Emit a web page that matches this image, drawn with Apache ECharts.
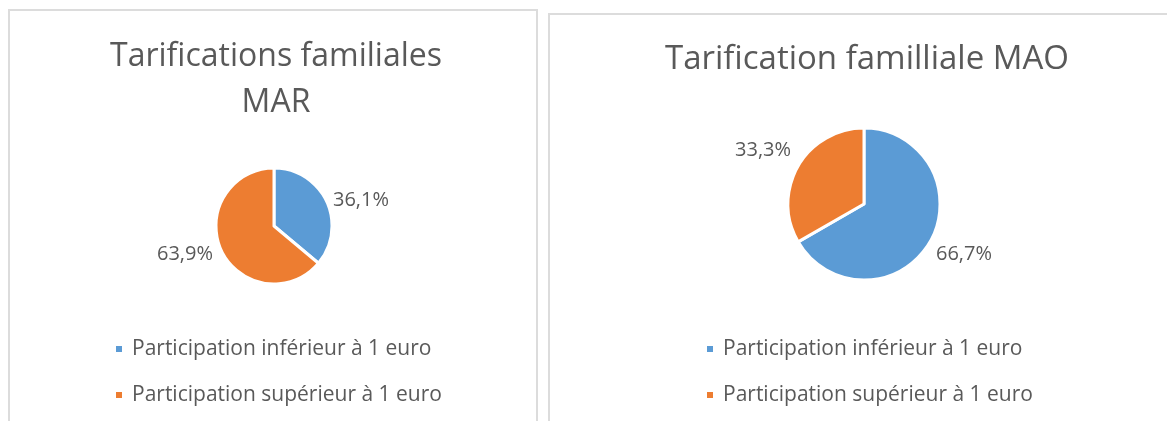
<!DOCTYPE html>
<html><head><meta charset="utf-8">
<script src="https://cdn.jsdelivr.net/npm/echarts@6/dist/echarts.min.js"></script>
<style>html,body{margin:0;padding:0;background:#fff}#c{width:1167px;height:421px}</style>
</head><body><div id="c"></div>
<script>
const categories = ['Participation inférieur à 1 euro', 'Participation supérieur à 1 euro'];
const valuesMAR = [36.1, 63.9];
const valuesMAO = [66.7, 33.3];
const titleMAR = 'Tarifications familiales\nMAR';
const titleMAO = 'Tarification familliale MAO';
const colors = ['#5B9BD5', '#ED7D31'];
const FONT = '"Open Sans"';
const TXT = '#595959';

const chart = echarts.init(document.getElementById('c'));
const fmt = p => p.percent.toFixed(1).replace('.', ',') + '%';
function pie(vals, center, radius, shifts) {
  return {
    type: 'pie', center: center, radius: radius, startAngle: 90, clockwise: true,
    itemStyle: { borderColor: '#fff', borderWidth: 3 },
    label: { show: true, position: 'outside', formatter: fmt, color: TXT, fontFamily: FONT, fontSize: 20 },
    labelLine: { show: false, length: 6, length2: 0 },
    labelLayout: function (p) { return { dx: shifts[p.dataIndex][0], dy: shifts[p.dataIndex][1] }; },
    emphasis: { disabled: true },
    data: categories.map((n, i) => ({ name: n, value: vals[i], itemStyle: { color: colors[i] } }))
  };
}
const legendBase = {
  orient: 'vertical', icon: 'rect', itemWidth: 8, itemHeight: 8, itemGap: 24, padding: 5,
  textStyle: { color: TXT, fontFamily: FONT, fontSize: 21, lineHeight: 22, padding: [0, 0, 0, 4] },
  data: categories, selectedMode: false
};
chart.setOption({
  animation: false,
  graphic: [
    { type: 'rect', shape: { x: 9, y: 10, width: 528, height: 430 }, style: { fill: 'none', stroke: '#dcdcdc', lineWidth: 2 } },
    { type: 'rect', shape: { x: 549, y: 14, width: 630, height: 430 }, style: { fill: 'none', stroke: '#dcdcdc', lineWidth: 2 } }
  ],
  title: [
    { text: titleMAR, left: 271, top: 29, textAlign: 'center',
      textStyle: { color: TXT, fontFamily: FONT, fontSize: 32, fontWeight: 'normal', lineHeight: 46 } },
    { text: titleMAO, left: 862, top: 35, textAlign: 'center',
      textStyle: { color: TXT, fontFamily: FONT, fontSize: 33, fontWeight: 'normal', lineHeight: 40 } }
  ],
  legend: [
    Object.assign({ left: 109, top: 333 }, legendBase),
    Object.assign({ left: 700, top: 333 }, legendBase)
  ],
  series: [
    pie(valuesMAR, [274, 226], 58, [[-4, 1], [2, 1]]),
    pie(valuesMAO, [864, 204], 76, [[-4, 9], [3, -13]])
  ]
});
</script></body></html>
